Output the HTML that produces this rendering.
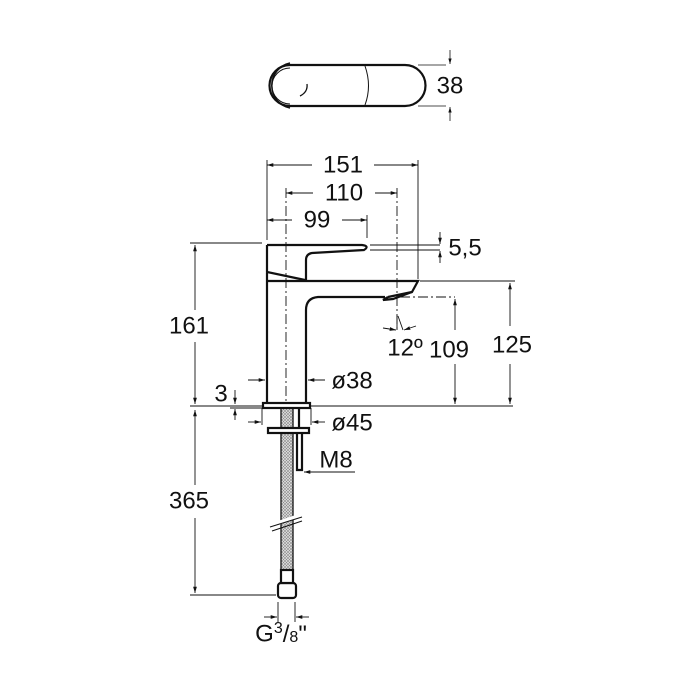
<!DOCTYPE html>
<html><head><meta charset="utf-8"><style>body{margin:0;background:#fff}svg{display:block}</style></head><body>
<svg width="700" height="700" viewBox="0 0 700 700" xmlns="http://www.w3.org/2000/svg" font-family="Liberation Sans, sans-serif">
<defs>
<marker id="a" viewBox="0 0 10 10" refX="10" refY="5" markerWidth="7" markerHeight="7" orient="auto-start-reverse"><path d="M0,2 L10,5 L0,8z" fill="#111"/></marker>
<pattern id="h" width="3" height="3" patternUnits="userSpaceOnUse"><rect width="3" height="3" fill="#e4e4e4"/><path d="M0,3 L3,0 M0,0 L3,3" stroke="#888" stroke-width="0.6"/></pattern>
</defs>
<g stroke="#111" fill="none">
<!-- top view -->
<path d="M290,65 L405,65 A20.5,20.5 0 0 1 405,106 L290,106 A20.5,20.5 0 0 1 290,65z" stroke-width="2.2"/>
<path d="M290,63 A23,23 0 0 0 290,108" stroke-width="1.5"/>
<path d="M290,68 A18,18 0 0 0 290,104" stroke-width="1"/>
<path d="M365,66 Q372,86 365,105" stroke-width="1"/>
<path d="M300,96 Q308,92 307,84" stroke-width="1.3"/>
<line x1="418" y1="65" x2="446" y2="65" stroke-width="0.8"/>
<line x1="418" y1="106" x2="446" y2="106" stroke-width="0.8"/>
<line x1="450" y1="50" x2="450" y2="64" stroke-width="0.8" marker-end="url(#a)"/>
<line x1="450" y1="121" x2="450" y2="107" stroke-width="0.8" marker-end="url(#a)"/>

<g stroke-width="0.9">
<line x1="267" y1="165" x2="312" y2="165" marker-start="url(#a)"/>
<line x1="374" y1="165" x2="418" y2="165" marker-end="url(#a)"/>
<line x1="267" y1="160" x2="267" y2="240"/>
<line x1="418" y1="160" x2="418" y2="279"/>
<line x1="286" y1="193" x2="313" y2="193" marker-start="url(#a)"/>
<line x1="375" y1="193" x2="397" y2="193" marker-end="url(#a)"/>
<line x1="267" y1="220" x2="292" y2="220" marker-start="url(#a)"/>
<line x1="342" y1="220" x2="367" y2="220" marker-end="url(#a)"/>
<line x1="367" y1="215" x2="367" y2="238"/>
<line x1="370" y1="245" x2="440" y2="245"/>
<line x1="370" y1="250" x2="440" y2="250"/>
<line x1="440" y1="232" x2="440" y2="244" marker-end="url(#a)"/>
<line x1="440" y1="263" x2="440" y2="251" marker-end="url(#a)"/>
</g>
<g stroke-width="0.9" stroke-dasharray="10,3,2,3">
<line x1="286" y1="188" x2="286" y2="406"/>
<line x1="397" y1="188" x2="397" y2="330"/>
<line x1="400" y1="297" x2="455" y2="297"/>
</g>

<rect x="281" y="408" width="12" height="162" fill="url(#h)" stroke="#111" stroke-width="1.3"/>
<g stroke-width="2.2">
<path d="M267,245 L362,245 Q370,246 364,250 L312,253 Q306,254 306,260 L306,280"/>
<path d="M267,245 L267,272 L305,280"/>
<path d="M267,273 L267,404"/>
<path d="M267,281 L418,281 L412,292 L388,297"/>
<path d="M388,297 L383,300 L393,299 L412,292"/>
<path d="M385,297 L318,297 Q306,298 306,310 L306,403"/>
<rect x="263" y="403" width="47" height="5" fill="#fff"/>
<rect x="268" y="428" width="41" height="5" fill="#fff"/>
<path d="M297,433 L297,470 L302,470 L302,433 M299,408 L299,428"/>
<rect x="278" y="583" width="18" height="15" rx="3" fill="#fff"/>
<rect x="281" y="570" width="12" height="13" fill="#fff"/>
</g>
<g stroke="#fff" stroke-width="4"><line x1="272" y1="525" x2="302" y2="515"/></g>
<g stroke-width="1"><line x1="270" y1="527" x2="302" y2="517"/><line x1="272" y1="531" x2="302" y2="521"/></g>

<g stroke-width="0.9">
<line x1="420" y1="281" x2="515" y2="281"/>
<line x1="510" y1="283" x2="510" y2="326" marker-start="url(#a)"/>
<line x1="510" y1="364" x2="510" y2="404" marker-end="url(#a)"/>
<line x1="455" y1="299" x2="455" y2="330" marker-start="url(#a)"/>
<line x1="455" y1="364" x2="455" y2="404" marker-end="url(#a)"/>
<line x1="310" y1="406" x2="513" y2="406"/>
<line x1="190" y1="406" x2="262" y2="406"/>
<line x1="190" y1="243" x2="262" y2="243"/>
<line x1="195" y1="245" x2="195" y2="310" marker-start="url(#a)"/>
<line x1="195" y1="342" x2="195" y2="404" marker-end="url(#a)"/>
<line x1="195" y1="410" x2="195" y2="485" marker-start="url(#a)"/>
<line x1="195" y1="518" x2="195" y2="593" marker-end="url(#a)"/>
<line x1="190" y1="595" x2="276" y2="595"/>
<line x1="397" y1="315" x2="397" y2="330"/>
<line x1="398" y1="316" x2="403" y2="330"/>
<line x1="383" y1="328" x2="396" y2="330" marker-end="url(#a)"/>
<line x1="416" y1="326" x2="404" y2="330" marker-end="url(#a)"/>
<line x1="248" y1="380" x2="265" y2="380" marker-end="url(#a)"/>
<line x1="325" y1="380" x2="308" y2="380" marker-end="url(#a)"/>
<line x1="235" y1="390" x2="235" y2="404" marker-end="url(#a)"/>
<line x1="235" y1="420" x2="235" y2="409" marker-end="url(#a)"/>
<line x1="230" y1="408" x2="262" y2="408"/>
<line x1="248" y1="422" x2="261" y2="422" marker-end="url(#a)"/>
<line x1="325" y1="422" x2="312" y2="422" marker-end="url(#a)"/>
<line x1="262" y1="408" x2="262" y2="425"/>
<line x1="311" y1="408" x2="311" y2="425"/>
<line x1="355" y1="472" x2="304" y2="472" marker-end="url(#a)"/>
<line x1="278" y1="602" x2="278" y2="622"/>
<line x1="295" y1="602" x2="295" y2="622"/>
<line x1="264" y1="617" x2="277" y2="617" marker-end="url(#a)"/>
<line x1="309" y1="617" x2="296" y2="617" marker-end="url(#a)"/>
</g>
</g>
<g fill="#111" font-size="24" text-anchor="middle" dominant-baseline="central">
<text x="450" y="86">38</text>
<text x="343" y="165">151</text>
<text x="344" y="193">110</text>
<text x="317" y="220">99</text>
<text x="465" y="248">5,5</text>
<text x="189" y="326">161</text>
<text x="405" y="348">12º</text>
<text x="449" y="350">109</text>
<text x="512" y="345">125</text>
<text x="352" y="381">ø38</text>
<text x="221" y="394">3</text>
<text x="352" y="423">ø45</text>
<text x="336" y="460">M8</text>
<text x="189" y="501">365</text>
<text x="281" y="634">G<tspan font-size="16" dy="-6">3</tspan><tspan dy="6">/</tspan><tspan font-size="16" dy="3">8</tspan><tspan dy="-3">"</tspan></text>
</g>
</svg>
</body></html>
